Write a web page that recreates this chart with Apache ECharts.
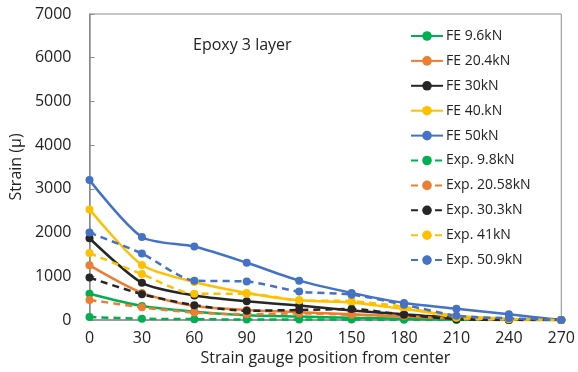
<!DOCTYPE html>
<html>
<head>
<meta charset="utf-8">
<script src="https://cdn.jsdelivr.net/npm/echarts@6/dist/echarts.min.js"></script>
<style>
  html, body { margin: 0; padding: 0; background: #fff; }
  #chart { width: 578px; height: 372px; }
</style>
</head>
<body>
<div id="chart"></div>
<script>
// Gauge positions from the center of the specimen
const positions = [0, 30, 60, 90, 120, 150, 180, 210, 240, 270];

// Finite-element strain predictions
const fe96  = [600, 320, 190, 110, 80, 50, 30, 10, 5, 0];
const fe204 = [1250, 620, 320, 230, 180, 130, 80, 30, 10, 0];
const fe30  = [1870, 850, 560, 430, 330, 220, 130, 50, 10, 0];
const fe40  = [2530, 1260, 870, 620, 450, 400, 250, 100, 30, 0];
const fe50  = [3200, 1900, 1680, 1310, 900, 620, 390, 260, 130, 0];

// Measured strains
const exp98   = [70, 30, 20, 10, 10, 10, 5, 0, 0, 0];
const exp2058 = [460, 290, 170, 130, 150, 120, 90, 30, 0, 0];
const exp303  = [970, 590, 340, 210, 230, 250, 120, 20, 0, 0];
const exp41   = [1530, 1050, 600, 600, 450, 430, 300, 50, 20, 0];
const exp509  = [2000, 1520, 900, 880, 650, 580, 350, 100, 40, 0];

const yTicks = [0, 1000, 2000, 3000, 4000, 5000, 6000, 7000];

const seriesDefs = [
  { name: 'FE 9.6kN',     data: fe96,    color: '#00B050', dashed: false },
  { name: 'FE 20.4kN',    data: fe204,   color: '#ED7D31', dashed: false },
  { name: 'FE 30kN',      data: fe30,    color: '#262626', dashed: false },
  { name: 'FE 40.kN',     data: fe40,    color: '#FFC000', dashed: false },
  { name: 'FE 50kN',      data: fe50,    color: '#4472C4', dashed: false },
  { name: 'Exp. 9.8kN',   data: exp98,   color: '#00B050', dashed: true },
  { name: 'Exp. 20.58kN', data: exp2058, color: '#ED7D31', dashed: true },
  { name: 'Exp. 30.3kN',  data: exp303,  color: '#262626', dashed: true },
  { name: 'Exp. 41kN',    data: exp41,   color: '#FFC000', dashed: true },
  { name: 'Exp. 50.9kN',  data: exp509,  color: '#4472C4', dashed: true }
];

const font = 'Open Sans, Liberation Sans, sans-serif';
const textColor = '#222';

const chart = echarts.init(document.getElementById('chart'));
chart.setOption({
  animation: false,
  backgroundColor: '#fff',
  grid: {
    left: 87, right: 16, top: 14, bottom: 52,
    show: true, borderColor: '#8c8c8c', borderWidth: 1
  },
  title: {
    text: 'Epoxy 3 layer',
    left: 188, top: 32,
    textStyle: { fontFamily: font, fontSize: 16, fontWeight: 'normal', color: textColor }
  },
  legend: {
    orient: 'vertical',
    left: 405, top: 24,
    itemWidth: 32, itemHeight: 12, itemGap: 10.9,
    textStyle: { fontFamily: font, fontSize: 14, color: textColor, padding: [0, 0, 0, -2] },
    data: seriesDefs.map(s => s.name)
  },
  xAxis: {
    type: 'value',
    min: 0, max: 270, interval: 30,
    name: 'Strain gauge position from center',
    nameLocation: 'middle', nameGap: 29,
    nameTextStyle: { fontFamily: font, fontSize: 16, color: textColor },
    axisLine: { lineStyle: { color: '#8c8c8c', width: 1.5 } },
    axisTick: { show: false },
    splitLine: { show: false },
    axisLabel: { fontFamily: font, fontSize: 16, color: textColor, margin: 10 }
  },
  yAxis: {
    type: 'value',
    min: yTicks[0], max: yTicks[yTicks.length - 1], interval: 1000,
    name: 'Strain (µ)',
    nameLocation: 'middle', nameGap: 62,
    nameTextStyle: { fontFamily: font, fontSize: 16, color: textColor },
    axisLine: { show: true, lineStyle: { color: '#8c8c8c', width: 1.5 } },
    axisTick: { show: true, inside: true, length: 5, lineStyle: { color: '#8c8c8c' } },
    splitLine: { show: false },
    axisLabel: {
      fontFamily: font, fontSize: 16, color: textColor, margin: 18,
      formatter: v => String(v)
    }
  },
  series: seriesDefs.map(s => ({
    name: s.name,
    type: 'line',
    smooth: 0.25,
    data: positions.map((p, i) => [p, s.data[i]]),
    symbol: 'circle',
    symbolSize: 8,
    itemStyle: { color: s.color },
    lineStyle: { color: s.color, width: 2.5, type: s.dashed ? [7, 5] : 'solid' }
  }))
});
</script>
</body>
</html>
